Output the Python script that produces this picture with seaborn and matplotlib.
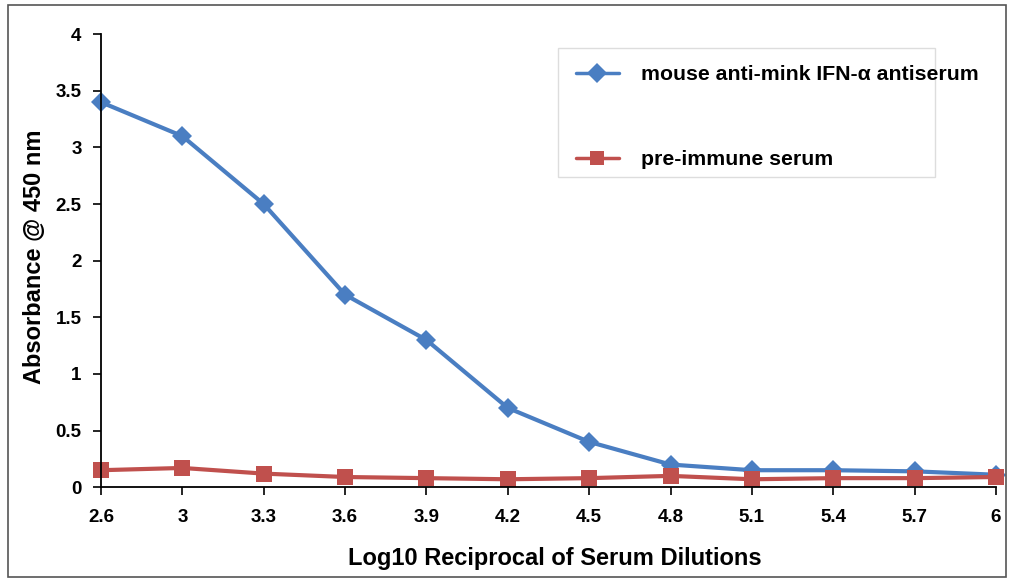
import pandas as pd
import seaborn as sns
import matplotlib.pyplot as plt
from matplotlib.patches import Rectangle

sns.set_style("white")
plt.rcParams['font.family'] = ['Liberation Sans', 'DejaVu Sans']
plt.rcParams['text.color'] = 'black'
plt.rcParams['axes.labelcolor'] = 'black'

# data
dilutions = ['2.6', '3', '3.3', '3.6', '3.9', '4.2', '4.5', '4.8', '5.1', '5.4', '5.7', '6']
antiserum = [3.4, 3.1, 2.5, 1.7, 1.3, 0.7, 0.4, 0.2, 0.15, 0.15, 0.14, 0.11]
preimmune = [0.15, 0.17, 0.12, 0.09, 0.08, 0.07, 0.08, 0.10, 0.07, 0.08, 0.08, 0.09]
series_names = ['mouse anti-mink IFN-\u03b1 antiserum', 'pre-immune serum']
yticks = [0, 0.5, 1, 1.5, 2, 2.5, 3, 3.5, 4]
ytick_labels = ['0', '0.5', '1', '1.5', '2', '2.5', '3', '3.5', '4']

df = pd.DataFrame({'pos': list(range(len(dilutions))) * 2,
                   'absorbance': antiserum + preimmune,
                   'serum': [series_names[0]] * len(dilutions) + [series_names[1]] * len(dilutions)})

fig = plt.figure(figsize=(10.12, 5.8), dpi=100)
ax = fig.add_axes([0.0998, 0.160, 0.8844, 0.781])

sns.lineplot(data=df, x='pos', y='absorbance', hue='serum', style='serum',
             palette=['#4A7EC2', '#C0504D'], markers=['D', 's'], dashes=False,
             lw=3, markersize=10, markeredgewidth=0, ax=ax)
ax.lines[1].set_markersize(11)

ax.set_xlim(0, len(dilutions) - 1)
ax.set_ylim(0, 4)
ax.set_xticks(range(len(dilutions)))
ax.set_xticklabels(dilutions, fontsize=13.5, fontweight='bold')
ax.set_yticks(yticks)
ax.set_yticklabels(ytick_labels, fontsize=13.5, fontweight='bold')
for s in ['top', 'right']:
    ax.spines[s].set_visible(False)
for s in ['left', 'bottom']:
    ax.spines[s].set_color('black')
    ax.spines[s].set_linewidth(1.3)
ax.tick_params(axis='both', direction='out', length=6, width=1.2, colors='black',
               bottom=True, left=True)
ax.tick_params(axis='x', pad=10)
ax.tick_params(axis='y', pad=8)
for line in ax.lines:
    line.set_clip_on(False)

ax.set_xlabel('Log10 Reciprocal of Serum Dilutions', fontsize=17, fontweight='bold')
ax.set_ylabel('Absorbance @ 450 nm', fontsize=17, fontweight='bold')
ax.xaxis.set_label_coords(0.507, -0.132)
ax.yaxis.set_label_coords(-0.0615, 0.508)

leg = ax.legend(loc='upper left', bbox_to_anchor=(0.519, 0.955), frameon=False,
                prop={'weight': 'bold', 'size': 15.3}, labelspacing=3.1, handlelength=2.0,
                borderpad=0.0, handletextpad=1.05)
for h in leg.legend_handles:
    h.set_linewidth(2.5)
    h.set_markersize(10)

# legend box as in the reference (light frame, text overflowing at right)
ax.add_patch(Rectangle((0.5106, 0.684), 0.4212, 0.2848, transform=ax.transAxes,
                       fill=False, edgecolor='#DDDDDD', lw=1, clip_on=False))

fig.patches.append(Rectangle((0.008, 0.006), 0.986, 0.985, transform=fig.transFigure,
                             fill=False, edgecolor='#555555', lw=1.2))

fig.savefig('out.png', dpi=100)
